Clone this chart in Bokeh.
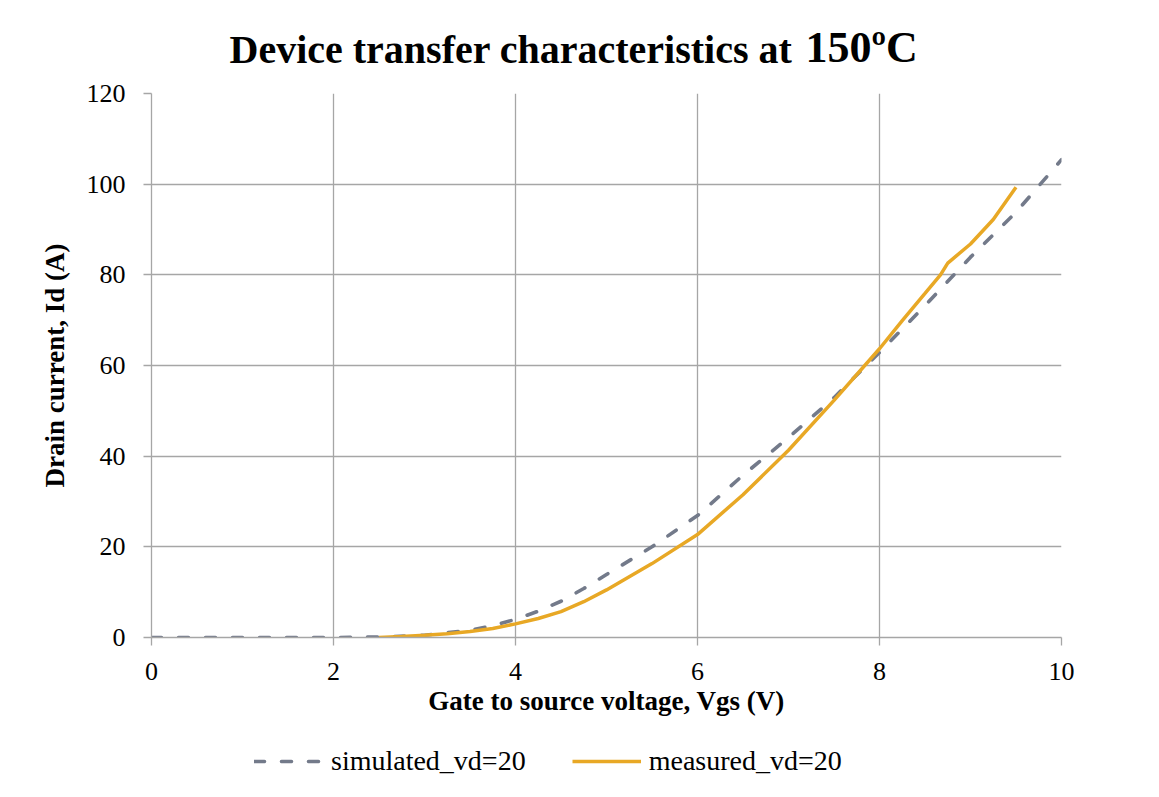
from bokeh.plotting import figure
from bokeh.layouts import column
from bokeh.models import Range1d, Legend, LegendItem, FixedTicker, Title
from bokeh.embed import file_html
from bokeh.resources import INLINE

# ---- data ----
vgs_sim = [0, 0.5, 1, 1.5, 2, 2.5, 3, 3.5, 3.75, 4, 4.25, 4.5, 4.75, 5, 5.5, 6, 6.5, 7, 7.5, 8, 8.5, 9, 9.5, 10]
id_sim = [0, 0, 0, 0, 0, 0.1, 0.5, 1.6, 2.6, 4.0, 5.8, 8.0, 10.8, 13.9, 20.0, 26.9, 35.8, 44.1, 52.9, 62.9, 73.2, 83.9, 93.8, 105.4]

vgs_meas = [2.5, 2.75, 3, 3.25, 3.5, 3.75, 4, 4.25, 4.5, 4.75, 5, 5.5, 6, 6.5, 7, 7.5, 8, 8.25, 8.5, 8.67, 8.75, 9, 9.25, 9.5]
id_meas = [0, 0.2, 0.5, 0.85, 1.3, 2.0, 3.0, 4.2, 5.7, 7.9, 10.5, 16.3, 22.7, 31.5, 41.3, 52.3, 63.7, 69.9, 75.9, 80.0, 82.6, 86.8, 92.2, 99.3]

x_ticks = [0, 2, 4, 6, 8, 10]
y_ticks = [0, 20, 40, 60, 80, 100, 120]

title_main = "Device transfer characteristics at"
title_temp = "150\u00baC"
x_label = "Gate to source voltage, Vgs (V)"
y_label = "Drain current, Id (A)"
sim_name = "simulated_vd=20"
meas_name = "measured_vd=20"

SERIF = "Liberation Serif"
GRID = "#a6a6a6"
SIM_COLOR = "#737a8a"
MEAS_COLOR = "#e8a825"
SIM_DASH = "10 17"

# ---- main chart ----
p = figure(width=1159, height=732, output_backend="svg", toolbar_location=None,
           x_range=Range1d(0, 10), y_range=Range1d(0, 120),
           min_border_left=151, min_border_right=98, min_border_top=93, min_border_bottom=95,
           title=None)
p.outline_line_color = None
p.background_fill_color = "white"
p.border_fill_color = "white"

for ax in (p.xaxis[0], p.yaxis[0]):
    ax.axis_line_color = GRID
    ax.axis_line_width = 1.3
    ax.major_tick_line_color = GRID
    ax.major_tick_line_width = 1.3
    ax.minor_tick_line_color = None
    ax.major_tick_in = 0
    ax.major_tick_out = 8
    ax.major_label_text_font = SERIF
    ax.major_label_text_font_size = "26px"
    ax.major_label_text_color = "black"
    ax.axis_label_text_font = SERIF
    ax.axis_label_text_font_style = "bold"
    ax.axis_label_text_font_size = "27px"
    ax.axis_label_text_color = "black"

p.xaxis.ticker = FixedTicker(ticks=x_ticks)
p.yaxis.ticker = FixedTicker(ticks=y_ticks)
p.xaxis.axis_label = x_label
p.yaxis.axis_label = y_label
p.xaxis.major_label_standoff = 17
p.yaxis.major_label_standoff = 18
p.xaxis.axis_label_standoff = 3
p.yaxis.axis_label_standoff = 14

p.grid.grid_line_color = GRID
p.grid.grid_line_width = 1.3

p.line(vgs_sim, id_sim, line_color=SIM_COLOR, line_width=3.6,
       line_dash=SIM_DASH, line_cap="round")
p.line(vgs_meas, id_meas, line_color=MEAS_COLOR, line_width=3.5)

t1 = Title(text=title_main, align="left", offset=78, vertical_align="bottom",
           text_font=SERIF, text_font_style="bold", text_font_size="40px",
           text_color="black", standoff=44)
t2 = Title(text=title_temp, align="left", offset=654, vertical_align="bottom",
           text_font=SERIF, text_font_style="bold", text_font_size="44px",
           text_color="black", standoff=-138)
p.add_layout(t1, "above")
p.add_layout(t2, "above")

# ---- legend strip below the chart ----
pl = figure(width=1159, height=65, output_backend="svg", toolbar_location=None,
            x_range=Range1d(0, 1), y_range=Range1d(0, 1),
            min_border_left=0, min_border_right=0, min_border_top=0, min_border_bottom=0,
            title=None)
pl.axis.visible = False
pl.grid.visible = False
pl.outline_line_color = None
pl.background_fill_color = "white"
pl.border_fill_color = "white"

nan = float("nan")
l_sim = pl.line([nan], [nan], line_color=SIM_COLOR, line_width=3.6, line_dash=SIM_DASH, line_cap="round")
l_meas = pl.line([nan], [nan], line_color=MEAS_COLOR, line_width=3.5)

legend = Legend(items=[LegendItem(label=sim_name, renderers=[l_sim]),
                       LegendItem(label=meas_name, renderers=[l_meas])],
                orientation="horizontal", location=(103, 20),
                label_text_font=SERIF, label_text_font_size="28px", label_text_color="black",
                glyph_width=69, label_standoff=8, spacing=46, margin=0, padding=6,
                border_line_color=None, background_fill_alpha=0)
pl.add_layout(legend, "center")

layout = column(p, pl, spacing=0)

open("out.html", "w").write(file_html(layout, INLINE))
